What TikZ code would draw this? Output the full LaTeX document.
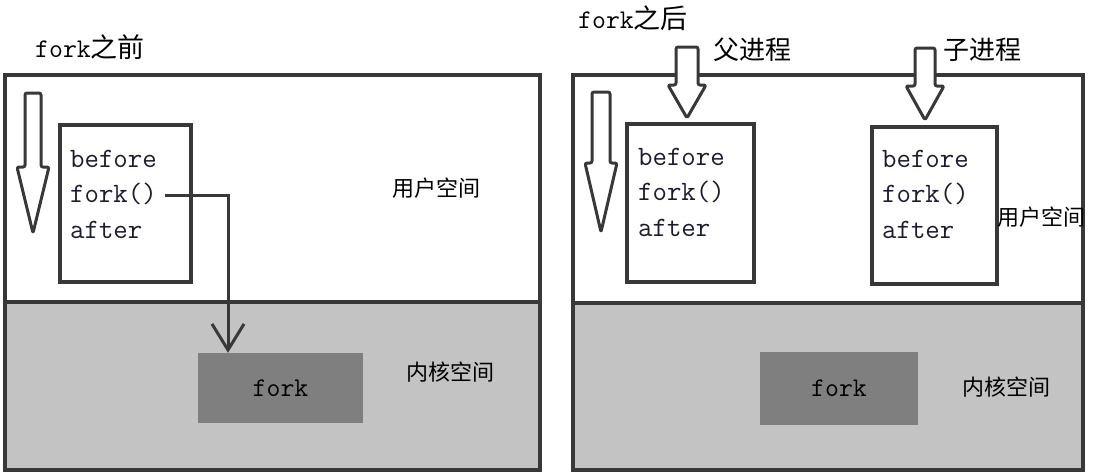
\documentclass[tikz,border=0pt]{standalone}
\usepackage{fontspec}
\newfontfamily\cjk{Noto Sans CJK SC}
\usetikzlibrary{arrows.meta}
\definecolor{linec}{HTML}{383838}
\definecolor{kgray}{HTML}{C3C3C3}
\definecolor{kdark}{HTML}{7F7F7F}
\definecolor{codec}{HTML}{1C1C30}
\newcommand\hollowarrow[6]{%
  \draw[arrowsty] (#1-#5,#2) -- (#1+#5,#2) -- (#1+#5,#3) -- (#1+#6,#3) -- (#1,#4) -- (#1-#6,#3) -- (#1-#5,#3) -- cycle;}
\begin{document}
\begin{tikzpicture}[x=1pt,y=-1pt,
  panel/.style={draw=linec,line width=3.5pt},
  codebox/.style={draw=linec,line width=4pt,fill=white,anchor=north west,inner sep=0pt},
  code/.style={anchor=base west,inner sep=0pt,text=codec,font=\ttfamily\fontsize{28}{30}\selectfont},
  kbox/.style={fill=kdark,inner sep=0pt,text=black,font=\ttfamily\fontsize{27}{30}\selectfont},
  cnlabel/.style={inner sep=0pt,font=\cjk\fontsize{22}{26}\selectfont},
  title/.style={anchor=west,inner sep=0pt,font=\fontsize{27}{30}\selectfont},
  arrowsty/.style={draw=linec,line width=3pt,fill=white,line join=round,rounded corners=2pt},
  conn/.style={draw=linec,line width=3pt}
]
\useasboundingbox (0,0) rectangle (1115,475);
\fill[white] (0,0) rectangle (1115,475);

% ---------- left panel: before fork ----------
\node[title] (t1) at (35,47) {{\ttfamily fork}{\cjk 之前}};
\fill[kgray] (5,302) rectangle (540,470);
\draw[panel] (5,75) rectangle (540,470);
\draw[panel] (5,302) -- (540,302);
\hollowarrow{33}{93}{167}{233}{8}{16}
\node[codebox,minimum width=131pt,minimum height=157pt] (ub1) at (58,123) {};
\node[code] (b1) at (70,167) {before};
\node[code] (f1) at (70,202) {fork()};
\node[code] (a1) at (70,238) {after};
\node[cnlabel] (us1) at (436,188) {用户空间};
\node[kbox,minimum width=165pt,minimum height=70pt] (kf1) at (280.5,388) {fork};
\node[cnlabel] (ks1) at (450,372) {内核空间};
\coordinate (bend) at (228,195);
\draw[conn,-{Straight Barb[length=26pt,width=32pt,line width=3pt]}]
  ([xshift=8pt]f1.east |- bend) -- (bend) -- (bend |- kf1.north);

% ---------- right panel: after fork ----------
\node[title] (t2) at (578,18) {{\ttfamily fork}{\cjk 之后}};
\fill[kgray] (573,303) rectangle (1083,470);
\draw[panel] (573,75) rectangle (1083,470);
\draw[panel] (573,303) -- (1083,303);
\hollowarrow{601}{92}{163}{232}{9}{16}
\node[codebox,minimum width=127pt,minimum height=158pt] (ub2) at (625,122) {};
\node[code] (b2) at (638,165) {before};
\node[code] (f2) at (638,200) {fork()};
\node[code] (a2) at (638,236) {after};
\node[codebox,minimum width=125pt,minimum height=157pt] (ub3) at (870,125) {};
\node[code] (b3) at (882,167) {before};
\node[code] (f3) at (882,202) {fork()};
\node[code] (a3) at (882,238) {after};
\hollowarrow{687}{47}{85}{118}{11}{19}
\hollowarrow{925}{48}{86}{120}{10}{19}
\node[cnlabel,font=\cjk\fontsize{26}{30}\selectfont] (pp) at (752,50) {父进程};
\node[cnlabel,font=\cjk\fontsize{26}{30}\selectfont] (cp) at (982,50) {子进程};
\node[cnlabel,anchor=west] (us2) at (997,217) {用户空间};
\node[kbox,minimum width=158pt,minimum height=73pt] (kf2) at (839,388.5) {fork};
\node[cnlabel] (ks2) at (1006,387) {内核空间};
\end{tikzpicture}
\end{document}
